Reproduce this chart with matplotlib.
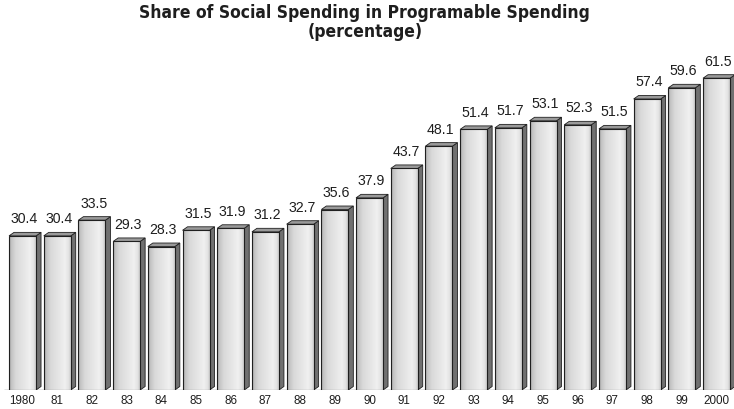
import numpy as np
import matplotlib
matplotlib.use("Agg")
import matplotlib.pyplot as plt
from matplotlib.patches import Polygon, Rectangle

years = ["1980", "81", "82", "83", "84", "85", "86", "87", "88", "89", "90",
         "91", "92", "93", "94", "95", "96", "97", "98", "99", "2000"]
shares = [30.4, 30.4, 33.5, 29.3, 28.3, 31.5, 31.9, 31.2, 32.7, 35.6, 37.9,
          43.7, 48.1, 51.4, 51.7, 53.1, 52.3, 51.5, 57.4, 59.6, 61.5]

W, H = 734, 410
fig = plt.figure(figsize=(W / 100, H / 100), dpi=100)
fig.patch.set_facecolor("white")

base_px = 391
top_px = 60
ax = fig.add_axes([0, (H - base_px) / H, 1, (base_px - top_px) / H])
px_per_unit = 5.07
pitch = 34.7
ax.set_ylim(0, (base_px - top_px) / px_per_unit)
x_left = -0.39 - 9 / pitch
ax.set_xlim(x_left, x_left + W / pitch)
ax.axis("off")

width = 27 / pitch
depth = 5 / pitch
rise = 3.5 / px_per_unit

# horizontal shading across the front face of each bar
stops_t = [0.0, 0.08, 0.25, 0.55, 0.78, 0.92, 1.0]
stops_v = [0.64, 0.76, 0.85, 0.90, 0.94, 0.89, 0.79]
t = np.linspace(0, 1, 80)
grad = np.tile(np.interp(t, stops_t, stops_v), (2, 1))

label_font = ["Liberation Sans", "DejaVu Sans"]

# floor line
ax.plot([x_left + 4 / pitch, ax.get_xlim()[1]], [0, 0], color="#808080",
        lw=1.0, zorder=1, solid_capstyle="butt")

for i, (yr, v) in enumerate(zip(years, shares)):
    x0 = i - width / 2
    x1 = i + width / 2
    # side face
    side = Polygon([(x1, 0), (x1 + depth, rise), (x1 + depth, v + rise), (x1, v)],
                   closed=True, facecolor="#707070", edgecolor="#202020",
                   lw=0.6, zorder=2)
    ax.add_patch(side)
    # top face
    top = Polygon([(x0, v), (x0 + depth, v + rise), (x1 + depth, v + rise), (x1, v)],
                  closed=True, facecolor="#9a9a9a", edgecolor="#202020",
                  lw=0.6, zorder=2)
    ax.add_patch(top)
    # front face with gradient
    im = ax.imshow(grad, cmap="gray", vmin=0, vmax=1, aspect="auto",
                   extent=(x0, x1, 0, v), interpolation="bilinear", zorder=3)
    front = Rectangle((x0, 0), width, v, facecolor="none",
                      edgecolor="#202020", lw=0.8, zorder=4)
    ax.add_patch(front)
    im.set_clip_path(front)
    # value label
    ax.text(i + 0.05, v + rise + 7 / px_per_unit, f"{v:.1f}", ha="center",
            va="bottom", fontsize=10.2, family=label_font, color="#1e1e1e",
            zorder=5)
    # year label
    fig.text((i - x_left) * pitch / W, 1 - 401 / H, yr, ha="center",
             va="center", fontsize=8.4, family=label_font, color="#1e1e1e")

title_kw = dict(ha="center", va="center", fontsize=12.5, fontweight="bold",
                family="DejaVu Sans", fontstretch="condensed", color="#1e1e1e")
fig.text(0.497, 1 - 13 / H, "Share of Social Spending in Programable Spending",
         **title_kw)
fig.text(0.497, 1 - 32 / H, "(percentage)", **title_kw)

fig.savefig("out.png", dpi=100, facecolor="white")
